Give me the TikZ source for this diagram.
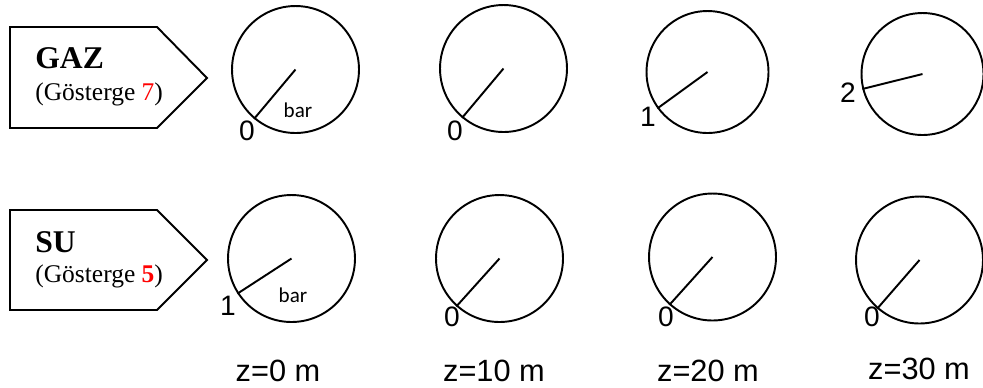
\documentclass[tikz,border=0pt]{standalone}
\usepackage{fontspec}
\setmainfont{Liberation Serif}
\newfontfamily\arialfont{Liberation Sans}
\newfontfamily\calfont{Carlito}
\usetikzlibrary{positioning}

\begin{document}
\begin{tikzpicture}[x=0.02cm, y=-0.02cm,
    dial/.style={draw, circle, line width=1.1pt, inner sep=0pt, minimum size=2.54cm},
    needle/.style={line width=1.1pt},
    tagbox/.style={draw, line width=1.1pt, line join=miter},
    title/.style={anchor=base west, inner sep=0pt, font=\bfseries\fontsize{18}{20}\selectfont},
    sub/.style={anchor=base west, inner sep=0pt, font=\fontsize{14.5}{16}\selectfont},
    num/.style={inner sep=0pt, font=\arialfont\fontsize{16}{18}\selectfont},
    unit/.style={inner sep=0pt, font=\calfont\fontsize{12}{14}\selectfont},
    depth/.style={anchor=base, inner sep=0pt, font=\arialfont\fontsize{17.5}{20}\selectfont},
]
\useasboundingbox (0,0) rectangle (983,387);

% labels on the left
\draw[tagbox] (10,27) -- (157,27) -- (207,78) -- (157,128) -- (10,128) -- cycle;
\draw[tagbox] (10,210) -- (157,210) -- (207,260) -- (157,310) -- (10,310) -- cycle;
\node[title] (gaz) at (35,68) {GAZ};
\node[sub] (gazsub) at (35,100) {(Gösterge {\color{red}7})};
\node[title] (su) at (35,252) {SU};
\node[sub] (susub) at (35,282) {(Gösterge {\color{red}\bfseries 5})};

% gauges, gas row
\node[dial] (g0) at (295.5,69.5) {};
\node[dial] (g10) at (503.5,68.5) {};
\node[dial, minimum size=2.44cm] (g20) at (707.5,72) {};
\node[dial, minimum size=2.44cm] (g30) at (922.5,74) {};
\draw[needle] (g0.center) -- (g0.230);
\draw[needle] (g10.center) -- (g10.230);
\draw[needle] (g20.center) -- (g20.216);
\draw[needle] (g30.center) -- (g30.194);
\node[num] (g0v) at (247,131) {0};
\node[unit] (g0u) at (298,110) {bar};
\node[num] (g10v) at (455,131) {0};
\node[num] (g20v) at (648,117) {1};
\node[num] (g30v) at (848,93) {2};

% gauges, water row
\node[dial] (w0) at (291.5,258.5) {};
\node[dial] (w10) at (499.5,258.5) {};
\node[dial] (w20) at (712.5,257) {};
\node[dial] (w30) at (919.5,260) {};
\draw[needle] (w0.center) -- (w0.213);
\draw[needle] (w10.center) -- (w10.228);
\draw[needle] (w20.center) -- (w20.228);
\draw[needle] (w30.center) -- (w30.229);
\node[num] (w0v) at (228,306) {1};
\node[unit] (w0u) at (293,295) {bar};
\node[num] (w10v) at (452,317) {0};
\node[num] (w20v) at (666,317) {0};
\node[num] (w30v) at (872,317) {0};

% depths
\node[depth] (z0) at (278,381) {z=0 m};
\node[depth] (z10) at (494,381) {z=10 m};
\node[depth] (z20) at (708,381) {z=20 m};
\node[depth] (z30) at (919,379) {z=30 m};
\end{tikzpicture}
\end{document}
